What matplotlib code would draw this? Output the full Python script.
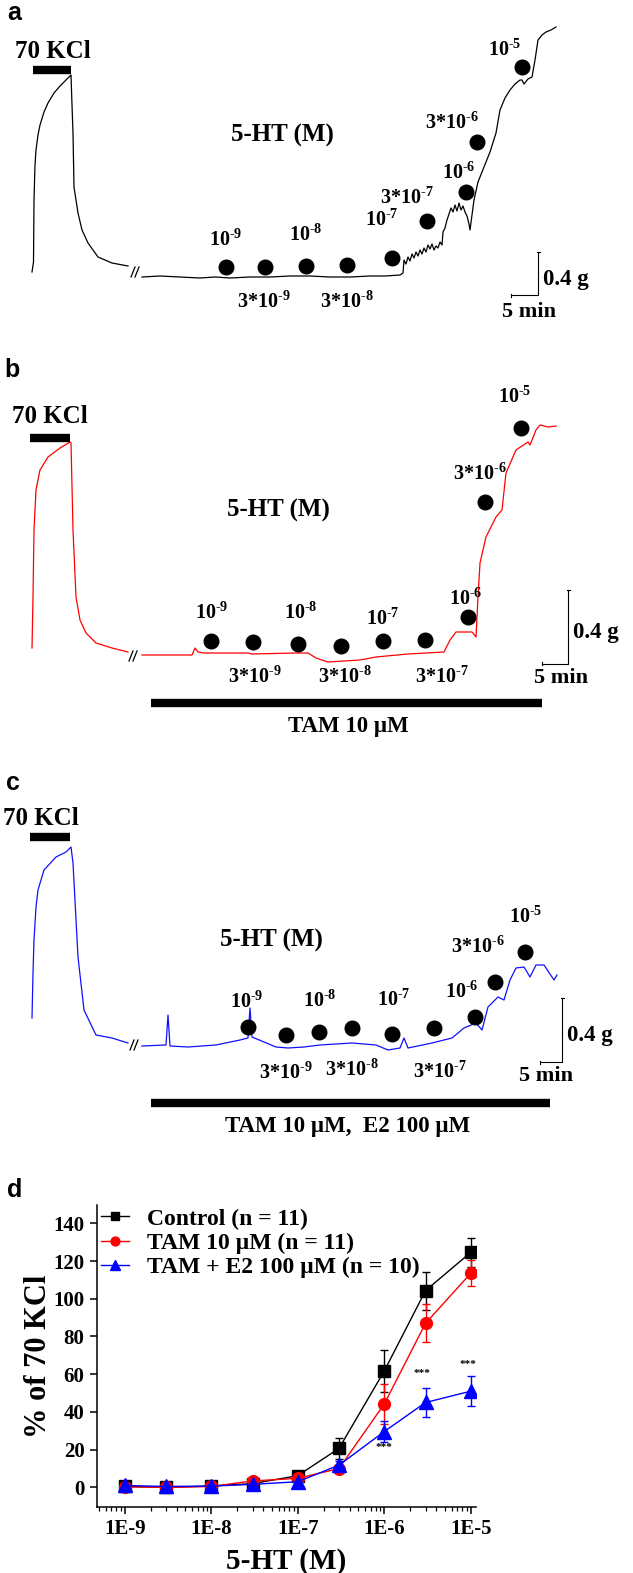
import numpy as np
import matplotlib.pyplot as plt

plt.rcParams['font.family'] = ['Liberation Serif', 'DejaVu Serif']
plt.rcParams['font.weight'] = 'bold'
plt.rcParams['mathtext.fontset'] = 'custom'
plt.rcParams['mathtext.rm'] = 'Liberation Serif:bold'
plt.rcParams['mathtext.it'] = 'Liberation Serif:bold:italic'
plt.rcParams['mathtext.bf'] = 'Liberation Serif:bold'
plt.rcParams['mathtext.default'] = 'rm'

# 5-HT concentrations added in the organ bath (short hyphen in the exponent)
conc_labels = ['10$^{\u20109}$', '3*10$^{\u20109}$', '10$^{\u20108}$', '3*10$^{\u20108}$', '10$^{\u20107}$',
               '3*10$^{\u20107}$', '10$^{\u20106}$', '3*10$^{\u20106}$', '10$^{\u20105}$']

# ---- traces (time / tension in recording units) ----
# a: control
a_t1 = [32, 33.5, 34, 35, 36, 38, 40, 44, 48, 54, 60, 66, 71, 72, 73, 74, 78, 82, 88, 98, 112, 128]
a_f1 = [48, 58, 120, 155, 170, 185, 195, 208, 217, 227, 234, 240, 245, 215, 187, 133, 107, 90, 77, 63, 57, 54]
a_t2 = [142, 160, 180, 200, 215, 230, 250, 270, 290, 310, 330, 350, 370, 385, 400, 403,
        404, 406, 408, 410, 412, 414, 416, 418, 420, 422, 424, 426, 428, 430, 432, 434, 436, 438, 440, 442,
        443, 445, 447, 449, 451, 453, 455, 457, 459, 461, 463, 465, 467, 469, 470,
        472, 474, 478, 484, 490, 496, 500, 505, 510, 515, 520, 522, 524, 528, 532, 535, 538, 542, 546, 551, 556]
a_f2 = [43, 44, 43, 42, 43, 42, 43, 43, 44, 44, 43, 43, 44, 44, 45, 47,
        60, 56, 63, 59, 66, 62, 68, 64, 70, 66, 72, 68, 75, 71, 76, 70, 74, 72, 78, 75,
        88, 92, 100, 106, 112, 108, 115, 109, 117, 110, 114, 108, 104, 96, 90,
        105, 120, 138, 153, 168, 187, 210, 222, 230, 236, 240, 240, 236, 241, 243, 260, 280, 285, 288, 290, 293]
a_dot_t = [226, 265, 306, 347, 392, 427, 466, 477, 522]
a_dot_f = [53, 53, 54, 55, 62, 99, 128, 178, 253]

# b: tamoxifen
b_t1 = [32, 33, 34, 36, 40, 48, 60, 70, 71, 73, 76, 80, 86, 96, 112, 128]
b_f1 = [92, 143, 210, 250, 270, 283, 292, 298, 297, 210, 143, 120, 107, 97, 92, 88]
b_t2 = [142, 192, 195, 198, 204, 240, 248, 252, 296, 308, 316, 328, 360, 376, 408, 444, 450,
        456, 472, 476, 478, 480, 486, 496, 502, 506, 516, 528, 530, 536, 540, 548, 556]
b_f2 = [85, 85, 92, 88, 87, 87, 87, 86, 87, 87, 82, 78, 80, 83, 86, 88, 100,
        108, 108, 103, 143, 177, 203, 223, 230, 267, 290, 298, 295, 310, 315, 313, 314]
b_dot_t = [211, 253, 298, 341, 383, 425, 468, 485, 521]
b_dot_f = [99, 98, 96, 94, 99, 100, 123, 238, 312]

# c: tamoxifen + E2
c_t1 = [32, 33, 34, 36, 38, 44, 56, 66, 71, 73, 78, 84, 96, 112, 128]
c_f1 = [122, 167, 200, 233, 250, 270, 283, 288, 293, 277, 183, 130, 105, 102, 97]
c_t2 = [142, 166, 168, 170, 188, 216, 240, 248, 250, 252, 276, 288, 304, 320, 352, 376, 388, 400,
        404, 408, 432, 452, 464, 476, 482, 488, 498, 504, 510, 516, 524, 530, 536, 544, 554, 557]
c_f2 = [94, 95, 125, 94, 93, 95, 100, 102, 132, 103, 93, 92, 93, 95, 97, 95, 90, 92,
        102, 92, 97, 102, 112, 117, 110, 133, 143, 140, 160, 172, 173, 163, 175, 175, 160, 165]
c_dot_t = [248, 286, 319, 352, 392, 434, 475, 495, 525]
c_dot_f = [113, 105, 108, 112, 106, 112, 123, 158, 188]

# ---- d: concentration-response curves ----
dose = [1e-9, 3e-9, 1e-8, 3e-8, 1e-7, 3e-7, 1e-6, 3e-6, 1e-5]
control = [0.5, 0, 0.7, 2.0, 6.2, 20.7, 61.7, 104.3, 124.6]
control_err = [1, 1, 1, 1, 1.5, 5.6, 11.2, 10, 7.8]
tam = [0.3, 0, 0.5, 3.4, 4.8, 10, 44.2, 87, 113.5]
tam_err = [1, 1, 1, 1.5, 1.5, 1.5, 10.8, 10, 7]
tam_e2 = [1.0, 0.5, 0.7, 1.6, 3.0, 11.8, 29.6, 45, 51]
tam_e2_err = [1.5, 1, 1, 1.5, 1.5, 2, 5.5, 7.5, 8]
stars = [(1e-6, 21.4), (2.7e-6, 60.6), (9.4e-6, 65.3)]

W, H = 633, 1573
fig = plt.figure(figsize=(W / 100, H / 100), dpi=100)


def band(top, bottom):
    ax = fig.add_axes([0, 1 - bottom / H, 1, (bottom - top) / H])
    ax.set_xlim(0, W)
    ax.set_ylim(0, bottom - top)
    ax.axis('off')
    return ax


def draw_trace(ax, color, t1, f1, t2, f2, dot_t, dot_f, lay):
    ax.plot(t1, f1, color=color, lw=0.9)
    ax.plot(t2, f2, color=color, lw=0.9)
    bx, by = lay['brk']
    for dx in (-4, 0):
        ax.plot([bx + dx, bx + dx + 4], [by - 5, by + 5], color='k', lw=0.9)
    ax.plot(dot_t, dot_f, 'o', color='k', ms=10.5, ls='none')
    for lab, (x, y) in zip(conc_labels, lay['labels']):
        ax.text(x, y, lab, ha='center', va='center', fontsize=14.5)
    ax.text(lay['letter'][0], lay['letter'][1], lay['name'], family=['Liberation Sans'],
            fontsize=18, weight='bold', va='baseline')
    kx, ky = lay['kcl']
    ax.text(kx, ky, '70 KCl', ha='center', va='baseline', fontsize=18)
    ax.plot(lay['kbar'], [lay['kbar_y']] * 2, color='k', lw=6, solid_capstyle='butt')
    ax.text(*lay['ht'], '5-HT (M)', ha='center', va='center', fontsize=18)
    sx, sy0, sy1, sx0 = lay['scale']
    ax.plot([sx0, sx, sx], [sy0, sy0, sy1], color='k', lw=0.8)
    ax.plot([sx0, sx0], [sy0 - 1.5, sy0 + 1.5], color='k', lw=0.8)
    ax.plot([sx - 1.5, sx + 1.5], [sy1, sy1], color='k', lw=0.8)
    ax.text(sx + 5, (sy0 + sy1) / 2 - 6, '0.4 g', ha='left', va='center', fontsize=16.5)
    ax.text(*lay['min'], '5 min', ha='center', va='center', fontsize=16)
    if 'drug' in lay:
        ax.plot(lay['drug_bar'], [lay['drug_y']] * 2, color='k', lw=6, solid_capstyle='butt')
        ax.text(348, lay['drug_y'] - 24, lay['drug'], ha='center', va='center', fontsize=16.5)


lay_a = dict(name='a', letter=(7, 300), kcl=(53, 262), kbar=[33, 71], kbar_y=250, ht=(282, 185),
             brk=(135, 48), scale=(538, 25, 68, 511), min=(529, 8),
             labels=[(226, 80), (264, 18), (306, 85), (347, 18), (382, 100),
                     (407, 122), (459, 147), (452, 197), (505, 270)])
lay_b = dict(name='b', letter=(4, 363), kcl=(50, 317), kbar=[30, 70], kbar_y=302, ht=(278, 230),
             brk=(133, 84), scale=(568, 76, 150, 542), min=(561, 62),
             drug='TAM 10 \u00b5M', drug_bar=[151, 542], drug_y=37,
             labels=[(212, 127), (255, 63), (301, 127), (345, 63), (383, 121),
                     (442, 63), (466, 141), (480, 266), (515, 343)])
lay_c = dict(name='c', letter=(6, 350), kcl=(41, 315), kbar=[30, 70], kbar_y=303, ht=(271, 200),
             brk=(134, 95), scale=(562, 78, 142, 540), min=(546, 64),
             drug='TAM 10 \u00b5M,  E2 100 \u00b5M', drug_bar=[151, 550], drug_y=37.5,
             labels=[(247, 138), (286, 67), (320, 139), (352, 70), (394, 140),
                     (440, 68), (462, 148), (478, 193), (526, 223)])

ax_a = band(0, 320)
draw_trace(ax_a, 'black', a_t1, a_f1, a_t2, a_f2, a_dot_t, a_dot_f, lay_a)
ax_b = band(320, 740)
draw_trace(ax_b, '#ff0000', b_t1, b_f1, b_t2, b_f2, b_dot_t, b_dot_f, lay_b)
ax_c = band(740, 1140)
draw_trace(ax_c, '#1010ff', c_t1, c_f1, c_t2, c_f2, c_dot_t, c_dot_f, lay_c)

# ---- panel d ----
fig.text(7 / W, 1 - 1197 / H, 'd', family=['Liberation Sans'], fontsize=18, weight='bold')
ax = fig.add_axes([97 / W, 1 - 1507 / H, 379 / W, 302 / H])
series = [(control, control_err, 'black', 's', 8.5, 'Control (n = 11)'),
          (tam, tam_err, '#ff0000', 'o', 8.5, 'TAM 10 \u00b5M (n = 11)'),
          (tam_e2, tam_e2_err, '#0000ff', '^', 10, 'TAM + E2 100 \u00b5M (n = 10)')]
handles = []
for vals, err, col, mk, ms, lab in series:
    cont = ax.errorbar(dose, vals, yerr=err, color=col, marker=mk, ms=ms, mec=col,
                       lw=1, elinewidth=1, capsize=3, capthick=1)
    handles.append(cont.lines[0])
for x, y in stars:
    ax.text(x, y, '***', ha='center', va='center', fontsize=8)

ax.set_xscale('log')
ax.set_xlim(4.77e-10, 1.15e-5)
ax.set_ylim(-10.4, 149.7)
ax.set_yticks(range(0, 141, 20))
ax.set_xticks(dose[::2])
ax.set_xticklabels(['1E-9', '1E-8', '1E-7', '1E-6', '1E-5'])
ax.spines['top'].set_visible(False)
ax.spines['right'].set_visible(False)
for s in ('left', 'bottom'):
    ax.spines[s].set_linewidth(1.1)
ax.tick_params(which='major', direction='out', length=5, width=1.1, labelsize=15, pad=4)
ax.tick_params(which='minor', direction='out', length=3, width=0.9)
ax.tick_params(axis='y', which='minor', left=False)
ax.set_xlabel('5-HT (M)', fontsize=21, fontweight='bold', labelpad=6)
ax.set_ylabel('% of 70 KCl', fontsize=22, fontweight='bold', labelpad=0)
ax.legend(handles, [s[5] for s in series], loc='upper left', bbox_to_anchor=(0.01, 0.99),
          frameon=False, fontsize=17, handlelength=1.2, handletextpad=0.75,
          labelspacing=0.12, borderpad=0, borderaxespad=0, markerscale=0.75)

fig.savefig('out.png', dpi=100)
